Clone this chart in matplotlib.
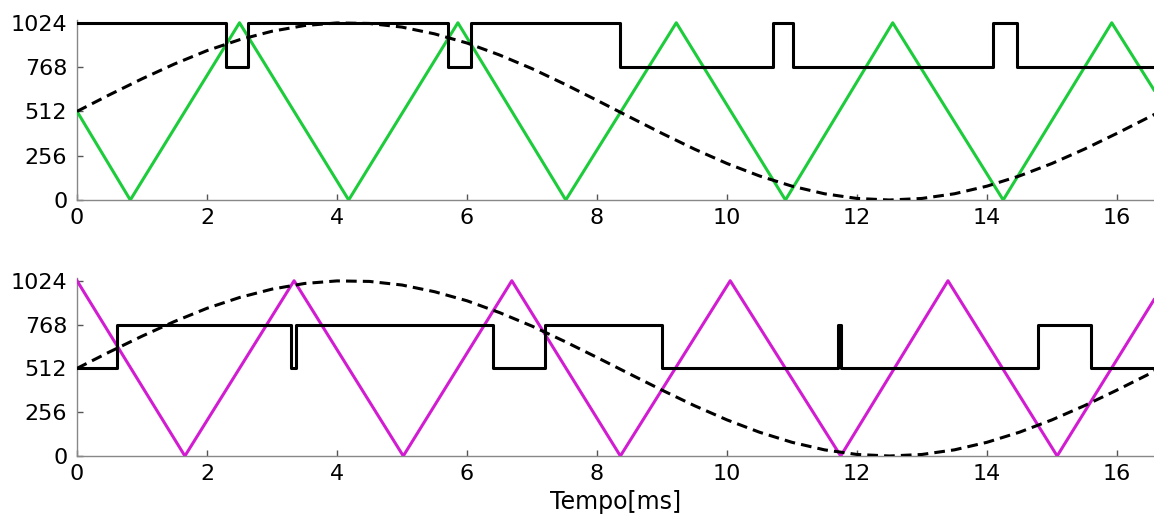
import matplotlib
matplotlib.use("Agg")
import matplotlib.pyplot as plt

plt.rcParams['font.family'] = ['DejaVu Sans']

# Time axis (ms) for the sampled reference sine (dashed)
sine_t = [0.0, 0.5, 1.0, 1.5, 2.0, 2.5, 3.0, 3.5, 4.0, 4.5, 5.0, 5.5, 6.0, 6.5,
          7.0, 7.5, 8.0, 8.5, 9.0, 9.5, 10.0, 10.5, 11.0, 11.5, 12.0, 12.5,
          13.0, 13.5, 14.0, 14.5, 15.0, 15.5, 16.0, 16.5, 16.67]
sine_v = [512, 608, 700, 786, 863, 926, 975, 1008, 1023, 1020, 999, 960, 907, 838,
          759, 670, 576, 480, 385, 294, 211, 139, 80, 36, 9, 0,
          9, 36, 80, 139, 211, 294, 385, 480, 512]

# Upper panel: triangular carrier vertices
carrier1_t = [0.0, 0.82, 2.50, 4.18, 5.86, 7.52, 9.22, 10.90, 12.55, 14.25, 15.92, 16.57]
carrier1_v = [512, 0, 1024, 0, 1024, 0, 1024, 0, 1024, 0, 1024, 636]

# Upper panel: PWM output switching instants and levels
pwm1_t = [0.0, 2.29, 2.63, 5.71, 6.06, 8.35, 10.71, 11.01, 14.09, 14.46, 16.67]
pwm1_v = [1024, 768, 1024, 768, 1024, 768, 1024, 768, 1024, 768, 768]

# Lower panel: triangular carrier vertices
carrier2_t = [0.0, 1.66, 3.34, 5.02, 6.69, 8.36, 10.05, 11.75, 13.40, 15.08, 16.57]
carrier2_v = [1024, 0, 1024, 0, 1024, 0, 1024, 0, 1024, 0, 913]

# Lower panel: PWM output switching instants and levels
pwm2_t = [0.0, 0.62, 3.29, 3.37, 6.40, 7.20, 9.00, 11.71, 11.76, 14.78, 15.60, 16.67]
pwm2_v = [512, 768, 512, 768, 512, 768, 512, 768, 512, 768, 512, 512]

y_ticks = [0, 256, 512, 768, 1024]
x_ticks = [0, 2, 4, 6, 8, 10, 12, 14, 16]

W, H = 1154, 520
fig = plt.figure(figsize=(W / 100, H / 100), dpi=100)

left = 77 / W
width = 1 - left
ax1 = fig.add_axes([left, 1 - 200 / H, width, 180 / H])
ax2 = fig.add_axes([left, 1 - 456 / H, width, 178 / H])

dash = (0, (3.5, 2.0))
for ax, ct, cv, pt, pv, color in [
    (ax1, carrier1_t, carrier1_v, pwm1_t, pwm1_v, '#1ccc3a'),
    (ax2, carrier2_t, carrier2_v, pwm2_t, pwm2_v, '#d21cd2'),
]:
    ax.plot(ct, cv, color=color, lw=2.2, zorder=3)
    ax.plot(pt, pv, color='black', lw=2.2, drawstyle='steps-post', zorder=4)
    ax.plot(sine_t, sine_v, color='black', lw=2.2, linestyle=dash, zorder=5)

    ax.set_xlim(0, 16.57)
    ax.set_ylim(0, 1040)
    ax.set_xticks(x_ticks)
    ax.set_yticks(y_ticks)
    ax.tick_params(direction='in', length=4, width=1, colors='#555555',
                   labelcolor='black', labelsize=16)
    ax.tick_params(axis='y', pad=7)
    ax.tick_params(axis='x', pad=6)
    for side in ('top', 'right'):
        ax.spines[side].set_visible(False)
    for side in ('left', 'bottom'):
        ax.spines[side].set_color('#888888')
        ax.spines[side].set_linewidth(1.0)

ax2.set_xlabel('Tempo[ms]', fontsize=17, labelpad=4)

fig.savefig('out.png', dpi=100)
